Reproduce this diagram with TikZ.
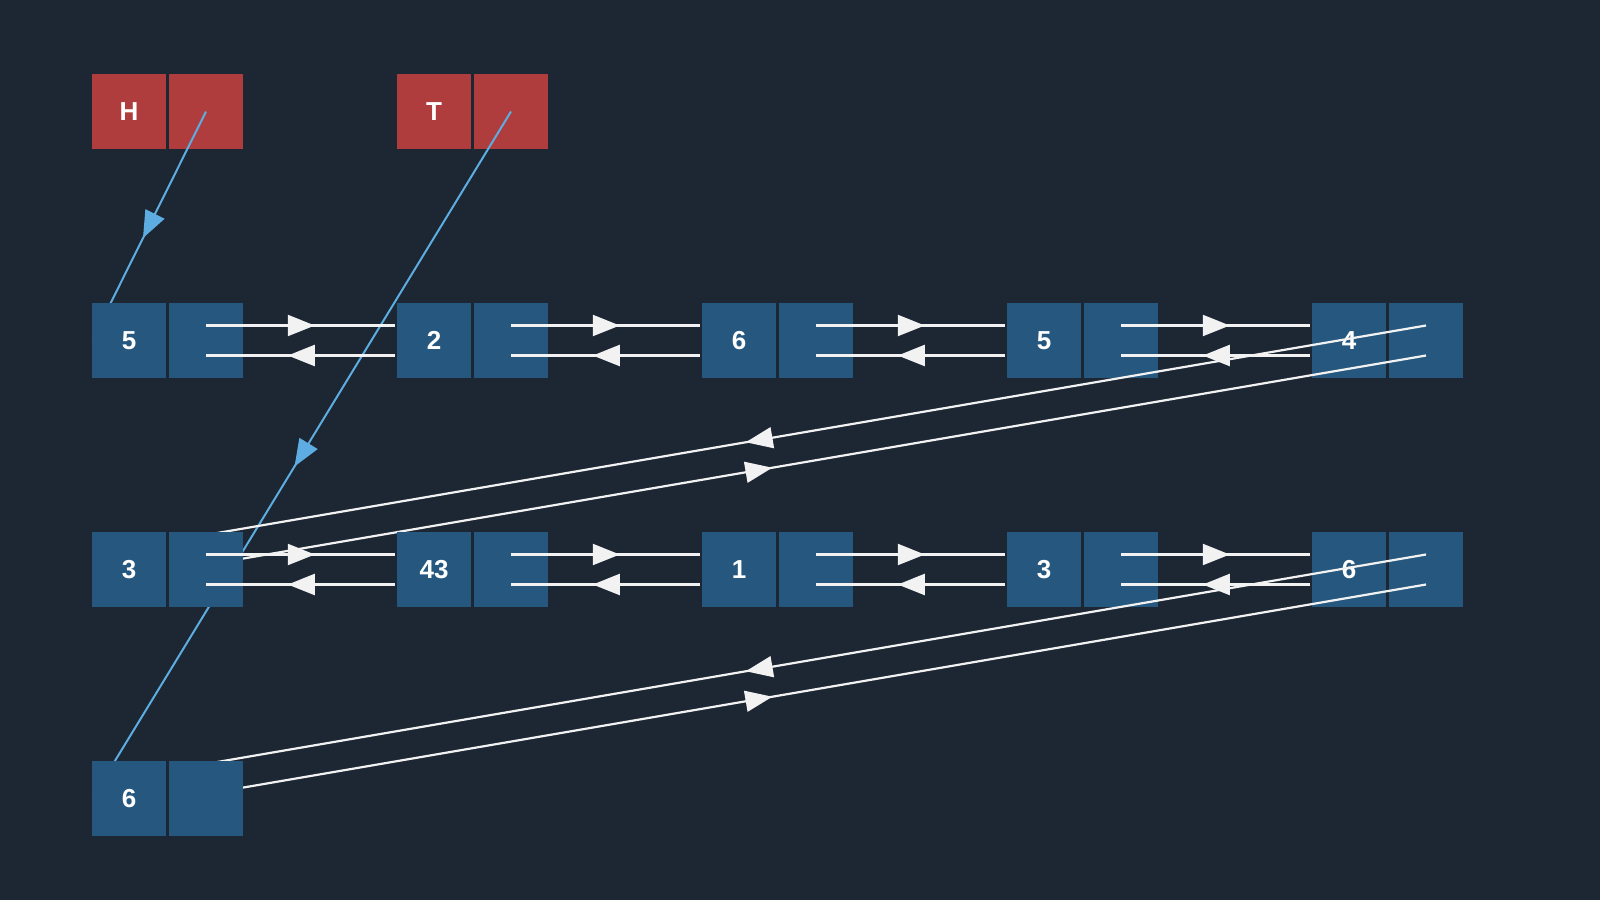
\documentclass[tikz,border=0pt]{standalone}
\usepackage{fontspec}
\setmainfont{Liberation Sans}
\usetikzlibrary{arrows.meta,decorations.markings}
\definecolor{bg}{HTML}{1C2733}
\definecolor{redc}{HTML}{B03D3D}
\definecolor{bluec}{HTML}{26587F}
\definecolor{linkc}{HTML}{5DADE2}
\definecolor{wht}{HTML}{F2F2F2}
\tikzset{
  cell/.style={minimum width=37pt, minimum height=37.5pt, inner sep=0pt,
    font=\bfseries\fontsize{13}{15}\selectfont, text=white},
  wl/.style={draw=wht, line width=1.1pt, shorten >=0.7pt},
  bl/.style={draw=linkc, line width=1pt, shorten >=0.7pt},
  fwdmid/.style={postaction={decorate}, decoration={markings,
    mark=at position 0.5 with {\pgftransformxshift{6.75pt}\arrow{Triangle[length=13.5pt,width=10.5pt]}}}},
  revmid/.style={postaction={decorate}, decoration={markings,
    mark=at position 0.5 with {\pgftransformxshift{-6.75pt}\arrowreversed{Triangle[length=13.5pt,width=10.5pt]}}}}
}
\newcommand\mkrecord[5]{%
  \fill[bg] (#2,#3) rectangle (#2+151,#3+75);
  \node[cell,fill=#5] (#1v) at (#2+37,#3+37.5) {#4};
  \node[cell,fill=#5] (#1p) at (#2+114,#3+37.5) {};
}
\newcommand\mklinks[2]{%
  \draw[wl,fwdmid] ([yshift=7.5pt]#1p.center) -- ([yshift=7.5pt]#2v.west);
  \draw[wl,revmid] ([yshift=-7.5pt]#1p.center) -- ([yshift=-7.5pt]#2v.west);
}
\begin{document}
\begin{tikzpicture}[x=0.5pt,y=-0.5pt]
  \fill[bg] (0,0) rectangle (1600,900);
  \useasboundingbox (0,0) rectangle (1600,900);
  % head / tail
  \mkrecord{H}{92}{74}{H}{redc}
  \mkrecord{T}{397}{74}{T}{redc}
  % west points of the target records (records drawn later, on top)
  \coordinate (r1aW) at (92,340.5);
  \coordinate (r3aW) at (92,798.5);
  \draw[bl,fwdmid] (Hp.center) -- (r1aW);
  \draw[bl,fwdmid] (Tp.center) -- (r3aW);
  % row 1
  \mkrecord{ra}{92}{303}{5}{bluec}
  \mkrecord{rb}{397}{303}{2}{bluec}
  \mkrecord{rc}{702}{303}{6}{bluec}
  \mkrecord{rd}{1007}{303}{5}{bluec}
  \mkrecord{re}{1312}{303}{4}{bluec}
  \mklinks{ra}{rb}
  \mklinks{rb}{rc}
  \mklinks{rc}{rd}
  \mklinks{rd}{re}
  \coordinate (saW) at (92,569.5);
  \draw[wl,fwdmid] ([yshift=7.5pt]rep.center) -- ([yshift=7.5pt]saW);
  \draw[wl,revmid] ([yshift=-7.5pt]rep.center) -- ([yshift=-7.5pt]saW);
  % row 2
  \mkrecord{sa}{92}{532}{3}{bluec}
  \mkrecord{sb}{397}{532}{43}{bluec}
  \mkrecord{sc}{702}{532}{1}{bluec}
  \mkrecord{sd}{1007}{532}{3}{bluec}
  \mkrecord{se}{1312}{532}{6}{bluec}
  \mklinks{sa}{sb}
  \mklinks{sb}{sc}
  \mklinks{sc}{sd}
  \mklinks{sd}{se}
  \draw[wl,fwdmid] ([yshift=7.5pt]sep.center) -- ([yshift=7.5pt]r3aW);
  \draw[wl,revmid] ([yshift=-7.5pt]sep.center) -- ([yshift=-7.5pt]r3aW);
  % row 3
  \mkrecord{ta}{92}{761}{6}{bluec}
\end{tikzpicture}
\end{document}
